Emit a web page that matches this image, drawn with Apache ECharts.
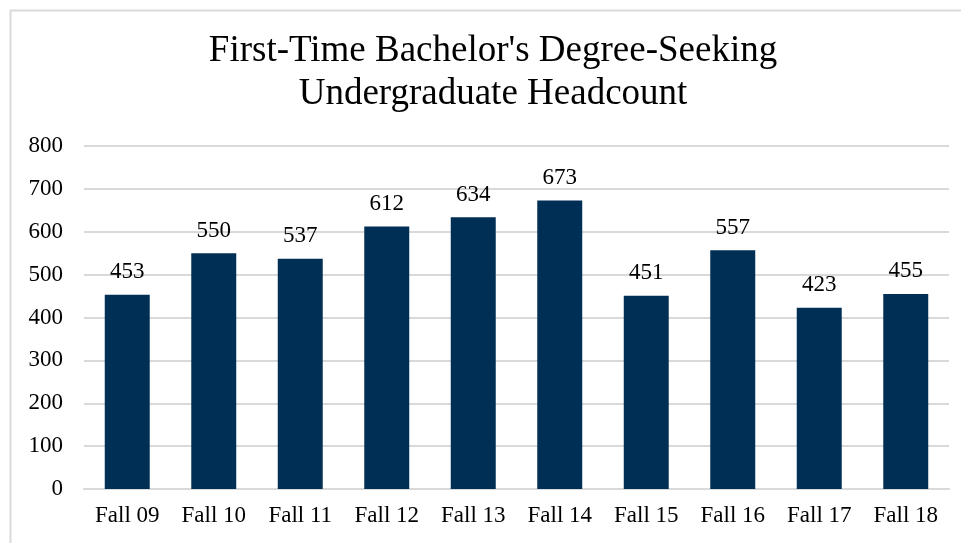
<!DOCTYPE html>
<html>
<head>
<meta charset="utf-8">
<script src="https://cdn.jsdelivr.net/npm/echarts@6/dist/echarts.min.js"></script>
<style>
  html, body { margin: 0; padding: 0; background: #fff; }
  #chart { width: 961px; height: 543px; }
</style>
</head>
<body>
<div id="chart"></div>
<script>
// terms on the x axis
var terms = ['Fall 09', 'Fall 10', 'Fall 11', 'Fall 12', 'Fall 13', 'Fall 14', 'Fall 15', 'Fall 16', 'Fall 17', 'Fall 18'];
// first-time bachelor's degree-seeking headcount
var headcount = [453, 550, 537, 612, 634, 673, 451, 557, 423, 455];

var chart = echarts.init(document.getElementById('chart'));

var option = {
  backgroundColor: '#fff',
  animation: false,
  textStyle: { fontFamily: 'Liberation Serif' },
  graphic: [{
    type: 'rect',
    shape: { x: 10.5, y: 10.5, width: 1000, height: 600 },
    style: { fill: 'none', stroke: '#d9d9d9', lineWidth: 2 },
    silent: true
  }],
  title: {
    text: "First-Time Bachelor's Degree-Seeking\nUndergraduate Headcount",
    left: 488,
    textAlign: 'center',
    top: 25,
    textStyle: {
      fontFamily: 'Liberation Serif',
      fontWeight: 'normal',
      fontSize: 37,
      lineHeight: 43,
      color: '#000'
    }
  },
  grid: {
    left: 84,
    right: 12,
    top: 146,
    bottom: 54,
    containLabel: false
  },
  xAxis: {
    type: 'category',
    data: terms,
    axisLine: { lineStyle: { color: '#d9d9d9', width: 2 } },
    axisTick: { show: false },
    axisLabel: {
      color: '#000',
      fontFamily: 'Liberation Serif',
      fontSize: 23,
      margin: 15
    }
  },
  yAxis: {
    type: 'value',
    min: 0,
    max: 800,
    interval: 100,
    axisLine: { show: false },
    axisTick: { show: false },
    splitLine: { lineStyle: { color: '#d9d9d9', width: 2 } },
    axisLabel: {
      color: '#000',
      fontFamily: 'Liberation Serif',
      fontSize: 23,
      margin: 21
    }
  },
  series: [{
    type: 'bar',
    data: headcount,
    barWidth: '52%',
    itemStyle: { color: '#002f56' },
    label: {
      show: true,
      position: 'top',
      distance: 11,
      color: '#000',
      fontFamily: 'Liberation Serif',
      fontSize: 23
    }
  }]
};

chart.setOption(option);
</script>
</body>
</html>
